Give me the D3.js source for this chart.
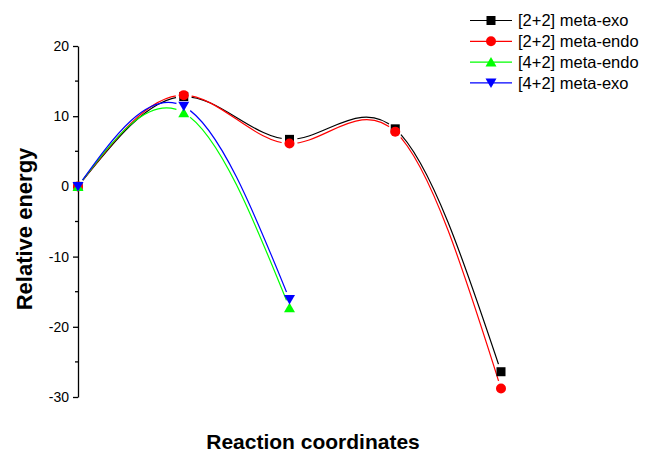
<!DOCTYPE html>
<html>
<head>
<meta charset="utf-8">
<script src="https://cdn.jsdelivr.net/npm/d3@7"></script>
<style>
  body { margin: 0; background: #fff; }
  svg text { font-family: "Liberation Sans", Arial, sans-serif; }
</style>
</head>
<body>
<div id="chart"></div>
<script>
// Data
const seriesNames = ["[2+2] meta-exo", "[2+2] meta-endo", "[4+2] meta-endo", "[4+2] meta-exo"];
const exo22 = [0, 12.8, 6.7, 8.2, -26.4];
const endo22 = [0, 13.0, 6.1, 7.8, -28.8];
const endo42 = [0, 10.5, -17.3];
const exo42 = [0, 11.4, -16.1];
const yTicks = [-30, -20, -10, 0, 10, 20];

const w = 646, h = 454;

// Colours and symbols per series
const colors = ["#000000", "#ff0000", "#00ff00", "#0000ff"];
const shapes = ["square", "circle", "up", "down"];
const allSeries = [exo22, endo22, endo42, exo42];

const svg = d3.select("#chart").append("svg")
    .attr("width", w)
    .attr("height", h);

//Scales: reaction coordinate index on x, energy on y.
const xScale = d3.scaleLinear().domain([0, 4]).range([78, 501]);
const yScale = d3.scaleLinear().domain([-30, 20]).range([397, 46]);

//Left axis with outward ticks and minor ticks at 5. Plain hyphen for negatives.
const yAxis = d3.axisLeft(yScale).tickValues(yTicks).tickFormat(d => String(d))
    .tickSize(5).tickSizeOuter(0).tickPadding(4);
const ga = svg.append("g")
    .attr("transform", "translate(" + xScale(0) + ",0)")
    .call(yAxis);
ga.select(".domain").attr("stroke", "#000").attr("stroke-width", 1.3);
ga.selectAll(".tick line").attr("stroke", "#000").attr("stroke-width", 1.3);
ga.selectAll(".tick text").attr("font-size", 14).attr("fill", "#000")
    .attr("font-family", "Liberation Sans, Arial, sans-serif");
ga.selectAll(".minor")
    .data([-25, -15, -5, 5, 15])
    .enter()
    .append("line")
    .attr("class", "minor")
    .attr("x1", -3).attr("x2", 0)
    .attr("y1", d => yScale(d)).attr("y2", d => yScale(d))
    .attr("stroke", "#000").attr("stroke-width", 1.3);

//Symbol drawing helper
function drawSymbol(g, shape, x, y, color) {
    if (shape === "square") {
        g.append("rect").attr("x", x - 4.5).attr("y", y - 4.5)
            .attr("width", 9).attr("height", 9).attr("fill", color);
    } else if (shape === "circle") {
        g.append("circle").attr("cx", x).attr("cy", y).attr("r", 5).attr("fill", color);
    } else if (shape === "up") {
        g.append("path").attr("d", "M" + x + "," + (y - 5) + "L" + (x + 5.5) + "," + (y + 4.5) + "L" + (x - 5.5) + "," + (y + 4.5) + "Z")
            .attr("fill", color);
    } else {
        g.append("path").attr("d", "M" + x + "," + (y + 5) + "L" + (x + 5.5) + "," + (y - 4.5) + "L" + (x - 5.5) + "," + (y - 4.5) + "Z")
            .attr("fill", color);
    }
}

const defs = svg.append("defs");
const line = d3.line()
    .x((d, i) => xScale(i))
    .y(d => yScale(d))
    .curve(d3.curveNatural);

//Lines, each with a mask that leaves a gap round its own symbols.
allSeries.forEach((data, s) => {
    const mask = defs.append("mask").attr("id", "gap" + s);
    mask.append("rect").attr("width", w).attr("height", h).attr("fill", "#fff");
    data.forEach((d, i) => {
        mask.append("circle").attr("cx", xScale(i)).attr("cy", yScale(d)).attr("r", 8).attr("fill", "#000");
    });
    svg.append("path")
        .datum(data)
        .attr("d", line)
        .attr("fill", "none")
        .attr("stroke", colors[s])
        .attr("stroke-width", 1.2)
        .attr("mask", "url(#gap" + s + ")");
});

//Symbols on top
allSeries.forEach((data, s) => {
    const g = svg.append("g");
    data.forEach((d, i) => drawSymbol(g, shapes[s], xScale(i), yScale(d), colors[s]));
});

//Legend
const legend = svg.append("g");
seriesNames.forEach((name, s) => {
    const y = 20.5 + s * 20.8;
    legend.append("line")
        .attr("x1", 470).attr("x2", 512).attr("y1", y).attr("y2", y)
        .attr("stroke", colors[s]).attr("stroke-width", 1.2);
    drawSymbol(legend, shapes[s], 491, y, colors[s]);
    legend.append("text")
        .attr("x", 518).attr("y", y + 5.8)
        .attr("font-size", 16.5)
        .attr("fill", "#000")
        .text(name);
});

//Axis titles
svg.append("text")
    .attr("x", 313).attr("y", 449)
    .attr("text-anchor", "middle")
    .attr("font-size", 21)
    .attr("font-weight", "bold")
    .text("Reaction coordinates");

svg.append("text")
    .attr("transform", "translate(32,229) rotate(-90)")
    .attr("text-anchor", "middle")
    .attr("font-size", 22)
    .attr("font-weight", "bold")
    .text("Relative energy");
</script>
</body>
</html>
